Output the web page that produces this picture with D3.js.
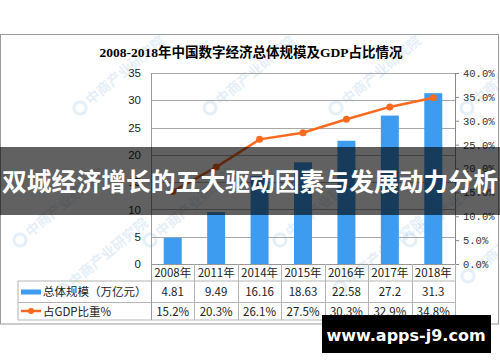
<!DOCTYPE html>
<html>
<head>
<meta charset="utf-8">
<script src="https://cdn.jsdelivr.net/npm/d3@7.9.0/dist/d3.min.js"></script>
<style>
  body { margin: 0; background: #fff; }
  svg { display: block; }
</style>
</head>
<body>
<div id="chart"></div>
<script>
// chart data
const years = ['2008年', '2011年', '2014年', '2015年', '2016年', '2017年', '2018年'];
const scale = [4.81, 9.49, 16.16, 18.63, 22.58, 27.2, 31.3];
const scaleLabels = ['4.81', '9.49', '16.16', '18.63', '22.58', '27.2', '31.3'];
const gdpShare = [15.2, 20.3, 26.1, 27.5, 30.3, 32.9, 34.8];
const gdpLabels = ['15.2%', '20.3%', '26.1%', '27.5%', '30.3%', '32.9%', '34.8%'];
const leftTicks = [0, 5, 10, 15, 20, 25, 30, 35];
const rightTicks = [0, 5, 10, 15, 20, 25, 30, 35, 40];
const seriesNames = ['总体规模（万亿元）', '占GDP比重%'];

const CFG = {
  W: 500, H: 362,
  left: 151, right: 455, top: 73, zero: 264,
  row1: 281, row2: 302.5, row3: 320, legendX: 18,
  blue: '#3d9cef', orange: '#fc6a1f', grid: '#a8a8a8', tbl: '#b4b4b4'
};

const svg = d3.select('#chart').append('svg')
  .attr('width', CFG.W).attr('height', CFG.H);

// outer frame
svg.append('rect')
  .attr('x', 0.5).attr('y', 34.5)
  .attr('width', 498).attr('height', 289.5)
  .attr('fill', '#fff').attr('stroke', '#9a9a9a');

// faint watermarks, kept inside the frame
svg.append('clipPath').attr('id', 'frameClip')
  .append('rect').attr('x', 1).attr('y', 35).attr('width', 497).attr('height', 288);
const wm = svg.append('g').attr('clip-path', 'url(#frameClip)');
const wmPos = [[80, 108], [210, 108], [336, 108], [467, 108],
               [20, 240], [150, 240], [280, 240], [410, 240],
               [63, 290], [340, 288], [468, 276]];
wmPos.forEach(p => {
  const g = wm.append('g')
    .attr('transform', `translate(${p[0]},${p[1]}) rotate(-40)`)
    .attr('opacity', 0.2);
  g.append('circle').attr('r', 6).attr('fill', 'none')
    .attr('stroke', '#7fb2dd').attr('stroke-width', 3);
  g.append('text').attr('x', 10).attr('y', 5)
    .attr('font-family', 'Noto Sans CJK SC').attr('font-weight', 'bold')
    .attr('font-size', 14).attr('fill', '#7fb2dd')
    .text('中商产业研究院');
});

const x = d3.scaleBand().domain(years).range([CFG.left, CFG.right]).padding(0);
const yL = d3.scaleLinear().domain([0, 35]).range([CFG.zero, CFG.top]);
const yR = d3.scaleLinear().domain([0, 40]).range([CFG.zero, CFG.top]);

// gridlines
svg.append('g').selectAll('line')
  .data(leftTicks.filter(d => d > 0))
  .join('line')
  .attr('x1', CFG.left).attr('x2', CFG.right)
  .attr('y1', d => Math.round(yL(d)) + 0.5).attr('y2', d => Math.round(yL(d)) + 0.5)
  .attr('stroke', CFG.grid);

// title
svg.append('text')
  .attr('x', 251).attr('y', 57)
  .attr('text-anchor', 'middle')
  .attr('font-family', '"Liberation Serif", "Noto Sans CJK SC"')
  .attr('font-weight', 'bold').attr('font-size', 13.5)
  .text('2008-2018年中国数字经济总体规模及GDP占比情况');

// bars
const barW = 18;
svg.append('g').selectAll('rect')
  .data(scale)
  .join('rect')
  .attr('x', (d, i) => x(years[i]) + x.bandwidth() / 2 - barW / 2)
  .attr('y', d => yL(d))
  .attr('width', barW)
  .attr('height', d => CFG.zero - yL(d))
  .attr('fill', CFG.blue);

// line series
const line = d3.line()
  .x((d, i) => x(years[i]) + x.bandwidth() / 2)
  .y(d => yR(d));

svg.append('path')
  .datum(gdpShare)
  .attr('d', line)
  .attr('fill', 'none')
  .attr('stroke', CFG.orange)
  .attr('stroke-width', 2.5);

svg.append('g').selectAll('circle')
  .data(gdpShare)
  .join('circle')
  .attr('cx', (d, i) => x(years[i]) + x.bandwidth() / 2)
  .attr('cy', d => yR(d))
  .attr('r', 3.5)
  .attr('fill', CFG.orange);

// left axis
const axL = svg.append('g')
  .attr('transform', `translate(${CFG.left},0)`)
  .call(d3.axisLeft(yL).tickValues(leftTicks).tickSize(0).tickPadding(10));
axL.select('.domain').remove();
axL.selectAll('text')
  .attr('font-family', '"Liberation Sans", Arial, sans-serif')
  .attr('font-size', 11.5).attr('fill', '#222');

// right axis
const axR = svg.append('g')
  .attr('transform', `translate(${CFG.right},0)`)
  .call(d3.axisRight(yR).tickValues(rightTicks).tickSize(4).tickPadding(4)
    .tickFormat(d => d.toFixed(1) + '%'));
axR.select('.domain').attr('stroke', '#888');
axR.selectAll('.tick line').attr('stroke', '#888');
axR.selectAll('text')
  .attr('font-family', '"Liberation Mono", monospace')
  .attr('font-size', 10.5).attr('fill', '#333');

// data table
const tbl = svg.append('g').attr('stroke', CFG.tbl).attr('fill', 'none');
[CFG.row1, CFG.row2, CFG.row3].forEach(y => {
  tbl.append('line').attr('x1', CFG.legendX).attr('x2', CFG.right)
    .attr('y1', y).attr('y2', y);
});
tbl.append('line').attr('x1', CFG.left).attr('x2', CFG.right)
  .attr('y1', CFG.zero + 0.5).attr('y2', CFG.zero + 0.5).attr('stroke', '#999');
tbl.append('line').attr('x1', CFG.legendX).attr('x2', CFG.legendX)
  .attr('y1', CFG.row1).attr('y2', CFG.row3);
tbl.append('line').attr('x1', CFG.left + 0.5).attr('x2', CFG.left + 0.5)
  .attr('y1', CFG.top).attr('y2', CFG.row3).attr('stroke', '#999');
years.forEach(yr => {
  const xe = Math.round(x(yr) + x.bandwidth()) + 0.5;
  tbl.append('line').attr('x1', xe).attr('x2', xe)
    .attr('y1', CFG.zero).attr('y2', CFG.row3);
});

const cellFont = '"Noto Sans CJK SC", sans-serif';
const cells = svg.append('g')
  .attr('font-family', cellFont).attr('font-size', 11.5)
  .attr('fill', '#222').attr('text-anchor', 'middle');
years.forEach((yr, i) => {
  const cx = x(yr) + x.bandwidth() / 2;
  cells.append('text').attr('x', cx).attr('y', 277).text(yr);
  cells.append('text').attr('x', cx).attr('y', 296).text(scaleLabels[i]);
  cells.append('text').attr('x', cx).attr('y', 315.5).text(gdpLabels[i]);
});

// legend cells
svg.append('rect').attr('x', 21).attr('y', 289.5)
  .attr('width', 20).attr('height', 5).attr('fill', CFG.blue);
svg.append('line').attr('x1', 21).attr('x2', 41)
  .attr('y1', 311).attr('y2', 311)
  .attr('stroke', CFG.orange).attr('stroke-width', 2.5);
svg.append('circle').attr('cx', 31).attr('cy', 311).attr('r', 3).attr('fill', CFG.orange);
cells.append('text').attr('x', 43).attr('y', 296).attr('text-anchor', 'start').text(seriesNames[0]);
cells.append('text').attr('x', 43).attr('y', 315.5).attr('text-anchor', 'start').text(seriesNames[1]);

// overlay banner
svg.append('rect')
  .attr('x', 0).attr('y', 147)
  .attr('width', CFG.W).attr('height', 68)
  .attr('fill', 'rgba(0,0,0,0.62)');
svg.append('text')
  .attr('x', 250).attr('y', 191)
  .attr('text-anchor', 'middle')
  .attr('font-family', '"Noto Sans CJK SC", sans-serif')
  .attr('font-weight', 'bold').attr('font-size', 24.8)
  .attr('fill', '#fff')
  .text('双城经济增长的五大驱动因素与发展动力分析');

// site stamp
svg.append('rect')
  .attr('x', 322).attr('y', 315)
  .attr('width', 169).attr('height', 38)
  .attr('fill', '#000');
svg.append('text')
  .attr('x', 406).attr('y', 341)
  .attr('text-anchor', 'middle')
  .attr('font-family', '"DejaVu Sans", sans-serif')
  .attr('font-weight', 'bold').attr('font-size', 16)
  .attr('fill', '#fff')
  .text('www.apps-j9.com');
</script>
</body>
</html>
